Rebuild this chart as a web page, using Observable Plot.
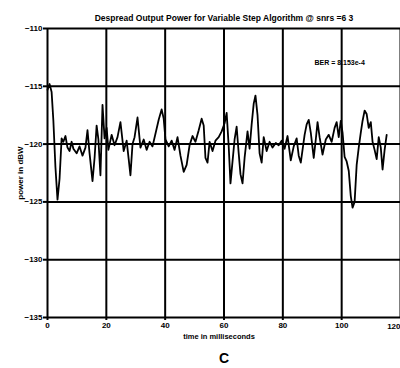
<!DOCTYPE html>
<html><head><meta charset="utf-8">
<script src="https://cdn.jsdelivr.net/npm/d3@7"></script>
<script src="https://cdn.jsdelivr.net/npm/@observablehq/plot@0.6"></script>
<style>body{margin:0;background:#fff}svg{display:block}</style>
</head><body><div id="chart"></div>
<script>
const titleText = "Despread Output Power for Variable Step Algorithm @ snrs =6 3";
const xLabel = "time in milliseconds";
const yLabel = "power in dBW";
const annotation = "BER = 8.153e-4";
const caption = "C";
const xTicks = [0, 20, 40, 60, 80, 100, 120];
const yTicks = [-110, -115, -120, -125, -130, -135];
const timeMs = [0,0.7,1.4,2.0,2.7,3.4,4.1,4.8,5.4,6.1,6.8,7.5,8.2,8.8,9.9,10.9,11.9,12.9,13.6,14.3,15.3,16.0,16.7,17.3,18.0,18.7,19.4,20.1,20.7,21.8,22.8,23.8,24.8,25.9,26.9,27.6,28.2,28.9,29.6,30.6,31.6,32.7,33.7,34.7,35.7,36.7,37.8,38.8,39.5,40.1,41.2,42.2,43.2,44.2,45.2,46.3,47.3,48.3,49.3,50.3,51.4,52.4,53.1,53.7,54.4,55.1,56.1,57.1,58.2,59.2,60.2,60.9,61.6,62.2,62.9,63.6,64.3,65.0,65.6,66.3,67.0,68.0,68.7,69.4,70.1,70.7,71.4,72.1,72.8,73.5,74.5,75.5,76.5,77.6,78.6,79.6,80.6,81.6,82.7,83.7,84.7,85.4,86.1,86.7,87.4,88.1,88.8,89.5,90.5,91.2,91.8,92.5,93.5,94.6,95.6,96.6,97.6,98.3,99.0,99.7,100.3,101.0,101.7,102.4,103.1,103.7,104.4,105.1,105.8,106.5,107.1,107.8,108.5,109.2,109.9,110.5,111.2,111.9,112.6,113.3,113.9,114.6,115.3];
const powerDbw = [-115.3,-114.8,-115.5,-118,-122,-124.8,-123,-119.5,-119.8,-119.3,-120.3,-120.6,-119.8,-120.4,-120.8,-120.2,-121,-120.3,-118.8,-120.8,-123.2,-121.2,-118.4,-119.6,-122.7,-116.6,-119.5,-118.6,-120.5,-119.2,-120.1,-119.4,-118.1,-120.6,-119.7,-121.3,-122.7,-120,-119.4,-117.7,-120.3,-119.6,-120.5,-119.8,-120.2,-119.1,-117.9,-117.0,-117.8,-119.6,-120.2,-119.7,-120.5,-119.4,-121.0,-122.4,-121.8,-120.1,-119.3,-119.8,-118.8,-117.8,-118.4,-121.2,-121.6,-119.8,-120.6,-119.7,-119.4,-118.9,-118.2,-117.3,-120.2,-123.4,-121.5,-119.6,-118.5,-120.8,-122.6,-123.4,-121.2,-118.9,-120.4,-118.3,-116.5,-115.8,-117.5,-120.8,-121.6,-119.4,-120.6,-119.8,-120.3,-119.9,-120.1,-119.7,-120.4,-119.3,-121.4,-120.2,-119.5,-121.0,-121.6,-120.5,-119.2,-118.3,-117.9,-119.0,-121.2,-119.6,-118.1,-119.4,-120.9,-119.6,-119.2,-119.8,-118.6,-118.1,-119.4,-118.0,-119.0,-121.1,-121.5,-122.3,-124.5,-125.5,-125.0,-121.8,-120.3,-119.0,-118.0,-117.1,-117.4,-118.6,-118.1,-119.8,-120.5,-121.3,-119.4,-120.3,-122.2,-120.5,-119.2];

const data = timeMs.map((t, i) => ({t, p: powerDbw[i]}));
const font = "'Liberation Sans', Arial, sans-serif";
const lastTick = xTicks[xTicks.length - 1];
const innerTicks = xTicks.slice(0, -1);

const chart = Plot.plot({
  width: 400, height: 368,
  marginLeft: 47, marginRight: 0, marginTop: 28, marginBottom: 51,
  style: {fontFamily: font, fontSize: "8px", fontWeight: "bold", color: "#000", background: "#fff"},
  x: {domain: [0, 120]},
  y: {domain: [-135, -110]},
  marks: [
    Plot.gridX(xTicks, {stroke: "#000", strokeOpacity: 1, strokeWidth: 2}),
    Plot.gridY(yTicks, {stroke: "#000", strokeOpacity: 1, strokeWidth: 2}),
    Plot.axisX({ticks: innerTicks, tickSize: 3, tickPadding: 2, strokeWidth: 2, label: null}),
    Plot.text([lastTick], {x: d => d, frameAnchor: "bottom", dy: 11, textAnchor: "end", fontSize: 8, fontWeight: "bold"}),
    Plot.text([xLabel], {frameAnchor: "bottom", dy: 21, dx: -5, fontSize: 7.5, fontWeight: "bold"}),
    Plot.axisY({ticks: yTicks, tickSize: 4, tickPadding: 1, strokeWidth: 2, label: yLabel, labelAnchor: "center", labelArrow: "none", labelOffset: 30}),
    Plot.lineY(data, {x: "t", y: "p", stroke: "#000", strokeWidth: 1.8, strokeLinejoin: "round"}),
    Plot.text([titleText], {frameAnchor: "top", dy: -14, fontSize: 8.5, fontWeight: "bold"}),
    Plot.text([annotation], {x: [99.3], y: [-113.0], fontSize: 7, fontWeight: "bold"}),
    Plot.text([caption], {frameAnchor: "bottom", dy: 45, fontSize: 14, fontWeight: "bold"})
  ]
});
document.getElementById("chart").append(chart);
</script></body></html>
